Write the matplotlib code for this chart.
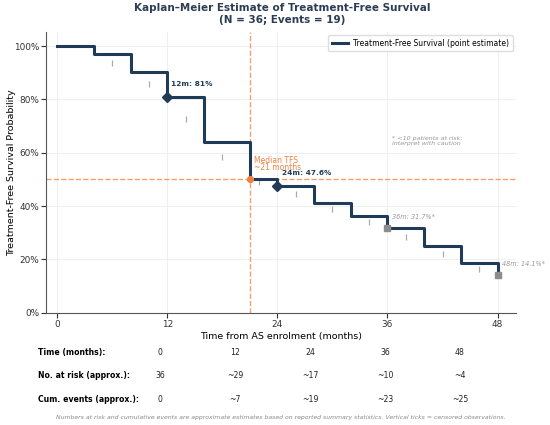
import matplotlib
matplotlib.use("Agg")
import matplotlib.pyplot as plt
from matplotlib.ticker import PercentFormatter

# ---- data ----
step_times = [0, 4, 8, 12, 16, 21, 24, 28, 32, 36, 40, 44, 48]
step_surv = [1.00, 0.972, 0.903, 0.81, 0.64, 0.50, 0.476, 0.412, 0.363, 0.317, 0.251, 0.187, 0.141]
censor_times = [6, 10, 14, 18, 22, 26, 30, 34, 38, 42, 46]
censor_surv = [0.938, 0.857, 0.725, 0.585, 0.492, 0.446, 0.388, 0.342, 0.286, 0.221, 0.165]
key_times = [12, 24]
key_surv = [0.81, 0.476]
caution_times = [36, 48]
caution_surv = [0.317, 0.141]
median_time = 21
median_surv = 0.50
table_times = ["0", "12", "24", "36", "48"]
at_risk = ["36", "~29", "~17", "~10", "~4"]
cum_events = ["0", "~7", "~19", "~23", "~25"]
row_labels = ["Time (months):", "No. at risk (approx.):", "Cum. events (approx.):"]
xticks = [0, 12, 24, 36, 48]

navy = "#1f3b57"
orange = "#f0a070"
orange_dark = "#f08040"
grey = "#999999"

fig = plt.figure(figsize=(5.5, 4.25), dpi=100)
ax = fig.add_axes([0.084, 0.264, 0.854, 0.66])

ax.step(step_times, step_surv, where="post", color=navy, lw=2.2,
        label="Treatment-Free Survival (point estimate)", zorder=3)
ax.plot(censor_times, censor_surv, ls="none", marker="|", ms=5, mew=0.9,
        color="#aaaaaa", zorder=2)
ax.plot(key_times, key_surv, ls="none", marker="D", ms=5.5, color=navy, zorder=4)
ax.plot(caution_times, caution_surv, ls="none", marker="s", ms=4.5, color="#8c8c8c", zorder=4)

ax.axvline(median_time, color=orange, ls="--", lw=1.0, zorder=1)
ax.axhline(median_surv, color=orange, ls="--", lw=1.0, zorder=1)
ax.plot([median_time], [median_surv], marker="o", ms=4.2, color=orange_dark, zorder=5)

ax.text(12.45, 0.858, "12m: 81%", fontsize=5.3, fontweight="bold", color=navy, va="center")
ax.text(24.45, 0.525, "24m: 47.6%", fontsize=5.3, fontweight="bold", color=navy, va="center",
        zorder=6)
ax.text(36.5, 0.361, "36m: 31.7%*", fontsize=4.7, style="italic", color=grey, va="center")
ax.text(48.5, 0.1835, "48m: 14.1%*", fontsize=4.7, style="italic", color=grey, va="center")
ax.text(21.4, 0.558, "Median TFS\n~21 months", fontsize=5.5, color=orange_dark, va="center",
        linespacing=0.85)
ax.text(36.5, 0.644, "* <10 patients at risk;\ninterpret with caution", fontsize=4.6,
        style="italic", color=grey, va="center", linespacing=1.05)

ax.set_xlim(-1.2, 50)
ax.set_ylim(0, 1.052)
ax.set_xticks(xticks)
ax.set_yticks([0, 0.2, 0.4, 0.6, 0.8, 1.0])
ax.yaxis.set_major_formatter(PercentFormatter(1.0, decimals=0))
ax.tick_params(labelsize=6.4, colors="#333333", length=3.5, pad=1.5)
ax.grid(True, color="#ececec", lw=0.6)
ax.set_axisbelow(True)
for s in ["top", "right"]:
    ax.spines[s].set_visible(False)
for s in ["left", "bottom"]:
    ax.spines[s].set_color("#555555")
ax.set_xlabel("Time from AS enrolment (months)", fontsize=6.8, labelpad=2)
ax.set_ylabel("Treatment-Free Survival Probability", fontsize=6.8)
ax.yaxis.set_label_coords(-0.064, 0.5)
ax.legend(loc="upper right", fontsize=5.5, frameon=True, framealpha=1, edgecolor="#dddddd",
          handlelength=2.2, handletextpad=0.65, borderpad=0.45, borderaxespad=0.4,
          fancybox=True)

fig.text(0.513, 0.968, "Kaplan\u2013Meier Estimate of Treatment-Free Survival\n(N = 36; Events = 19)",
         ha="center", va="center", fontsize=7.5, fontweight="bold", color="#2c3e55",
         linespacing=1.25)

# risk table
col_x = [0.291, 0.427, 0.564, 0.700, 0.836]
row_y = [1 - 352.7 / 425, 1 - 376 / 425, 1 - 400 / 425]
rows = [table_times, at_risk, cum_events]
for lab, y, vals in zip(row_labels, row_y, rows):
    fig.text(0.069, y, lab, fontsize=5.6, fontweight="bold", va="center", ha="left")
    for x, v in zip(col_x, vals):
        fig.text(x, y, v, fontsize=5.6, va="center", ha="center", color="#222222")

fig.text(0.511, 1 - 417 / 425,
         "Numbers at risk and cumulative events are approximate estimates based on reported summary statistics. Vertical ticks = censored observations.",
         fontsize=4.4, style="italic", color="#888888", ha="center", va="center")

fig.savefig("out.png", dpi=100)
